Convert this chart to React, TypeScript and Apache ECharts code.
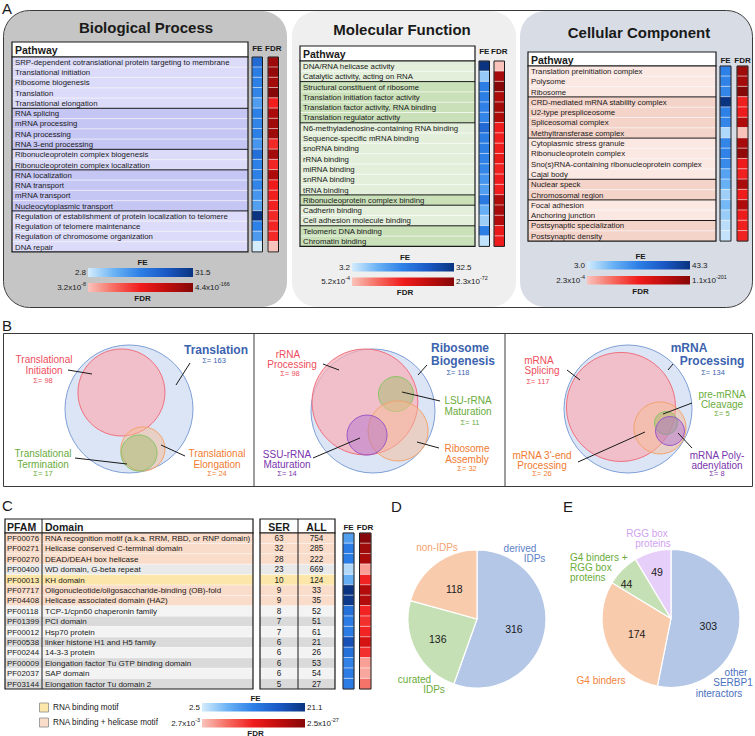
import React, { useEffect, useRef } from "react";
import * as echarts from "echarts";

const FONT = "'Liberation Sans', Arial, Helvetica, sans-serif";

// ---------------- Panel A data ----------------
const bpPathways = [
  "SRP-dependent cotranslational protein targeting to membrane",
  "Translational initiation",
  "Ribosome biogenesis",
  "Translation",
  "Translational elongation",
  "RNA splicing",
  "mRNA processing",
  "RNA processing",
  "RNA 3-end processing",
  "Ribonucleoprotein complex biogenesis",
  "Ribonucleoprotein complex localization",
  "RNA localization",
  "RNA transport",
  "mRNA transport",
  "Nucleocytoplasmic transport",
  "Regulation of establishment of protein localization to telomere",
  "Regulation of telomere maintenance",
  "Regulation of chromosome organization",
  "DNA repair",
];
const bpGroups = [5, 4, 2, 4, 4];
const bpFE = [21, 17.5, 17, 16.5, 13, 17, 16.5, 17, 14, 20, 17, 17, 16.5, 14, 12.5, 31.5, 17, 13.5, 2.8];
const bpFDR = [150, 155, 145, 165.4, 85, 140, 148, 150, 80, 145, 82, 138, 88, 85, 84, 80, 82, 80, 7.5]; // -log10(FDR)
const bpFERange = [2.8, 31.5];
const bpFDRRange = [7.49, 165.36];
const bpScale = ["2.8", "31.5", "3.2x10^-8", "4.4x10^-166"];

const mfPathways = [
  "DNA/RNA helicase activity",
  "Catalytic activity, acting on RNA",
  "Structural constituent of ribosome",
  "Translation initiation factor activity",
  "Translation factor activity, RNA binding",
  "Translation regulator activity",
  "N6-methyladenosine-containing RNA binding",
  "Sequence-specific mRNA binding",
  "snoRNA binding",
  "rRNA binding",
  "miRNA binding",
  "snRNA binding",
  "tRNA binding",
  "Ribonucleoprotein complex binding",
  "Cadherin binding",
  "Cell adhesion molecule binding",
  "Telomeric DNA binding",
  "Chromatin binding",
];
const mfGroups = [2, 4, 7, 1, 2, 2];
const mfFE = [32.5, 7.5, 18, 18, 17.5, 17, 22, 18.5, 18, 17.5, 17, 15, 13.5, 19, 11, 7, 18, 4.5];
const mfFDR = [3.3, 62, 71.6, 60, 63, 60, 38, 37, 38, 40, 36, 38, 37, 60, 62, 58, 40, 38];
const mfFERange = [3.2, 32.5];
const mfFDRRange = [3.28, 71.64];
const mfScale = ["3.2", "32.5", "5.2x10^-4", "2.3x10^-72"];

const ccPathways = [
  "Translation preinitiation complex",
  "Polysome",
  "Ribosome",
  "CRD-mediated mRNA stability complex",
  "U2-type prespliceosome",
  "Spliceosomal complex",
  "Methyltransferase complex",
  "Cytoplasmic stress granule",
  "Ribonucleoprotein complex",
  "Sno(s)RNA-containing ribonucleoprotein complex",
  "Cajal body",
  "Nuclear speck",
  "Chromosomal region",
  "Focal adhesion",
  "Anchoring junction",
  "Postsynaptic specialization",
  "Postsynaptic density",
];
const ccGroups = [3, 4, 4, 2, 2, 2];
const ccFE = [23, 22.5, 22, 43.3, 23, 22, 6.5, 22, 22.5, 21, 16, 13.5, 8, 12, 8.5, 5.5, 4.5];
const ccFDR = [180, 175, 201, 100, 105, 165, 3.6, 172, 190, 105, 100, 170, 102, 165, 105, 100, 98];
const ccFERange = [3.0, 43.3];
const ccFDRRange = [3.64, 200.96];
const ccScale = ["3.0", "43.3", "2.3x10^-4", "1.1x10^-201"];

// ---------------- Panel B data (Venn circles: cx, cy, r in units of the outer circle box 0-100) ----------------
const vennTranslation = [[50, 50, 50], [44.1, 62.9, 34], [60.9, 18.8, 17.2], [57.8, 15.6, 14.1]];
const vennTranslationKinds = ["blue", "red", "orange", "green"];
const vennRibosome = [[50, 50, 50], [43.5, 57.3, 42.7], [68.5, 63.7, 14.1], [70.2, 33.9, 24.2], [45.2, 30.6, 16.1]];
const vennRibosomeKinds = ["blue", "red", "green", "orange", "purple"];
const vennMRNA = [[50, 50, 50], [44.5, 51.6, 42.6], [75, 35.2, 20.3], [79.7, 39.1, 9], [82.8, 32.8, 11.3]];
const vennMRNAKinds = ["blue", "red", "orange", "green", "purple"];

// ---------------- Panel C data ----------------
const pfamIds = ["PF00076", "PF00271", "PF00270", "PF00400", "PF00013", "PF07717", "PF04408", "PF00118", "PF01399", "PF00012", "PF00538", "PF00244", "PF00009", "PF02037", "PF03144"];
const pfamDomains = [
  "RNA recognition motif (a.k.a. RRM, RBD, or RNP domain)",
  "Helicase conserved C-terminal domain",
  "DEAD/DEAH box helicase",
  "WD domain, G-beta repeat",
  "KH domain",
  "Oligonucleotide/oligosaccharide-binding (OB)-fold",
  "Helicase associated domain (HA2)",
  "TCP-1/cpn60 chaperonin family",
  "PCI domain",
  "Hsp70 protein",
  "linker histone H1 and H5 family",
  "14-3-3 protein",
  "Elongation factor Tu GTP binding domain",
  "SAP domain",
  "Elongation factor Tu domain 2",
];
const pfamSER = [63, 32, 28, 23, 10, 9, 9, 8, 7, 7, 6, 6, 6, 6, 5];
const pfamALL = [754, 285, 222, 669, 124, 33, 35, 52, 51, 61, 21, 26, 53, 54, 27];
const pfamMotif = [2, 2, 2, 0, 1, 2, 2, 0, 0, 0, 0, 0, 0, 0, 0]; // 1 RNA binding, 2 RNA binding + helicase
const pfamFE = [9, 12, 12, 4, 7.5, 21.1, 20.5, 13.5, 12, 12, 17.5, 13.5, 11.5, 12, 12];
const pfamFDR = [26.6, 24, 23, 5, 14, 22, 22, 14, 13, 14, 18, 13, 5, 4.5, 8];
const pfamFERange = [2.5, 21.1];
const pfamFDRRange = [2.57, 26.6];
const pfamScale = ["2.5", "21.1", "2.7x10^-3", "2.5x10^-27"];

// ---------------- Panel D / E data ----------------
const dLabels = ["derived IDPs", "curated IDPs", "non-IDPs"];
const dValues = [316, 136, 118];
const eLabels = ["other SERBP1 interactors", "G4 binders", "G4 binders + RGG box proteins", "RGG box proteins"];
const eValues = [303, 174, 44, 49];

// ---------------- styles ----------------
const FE_COLORS = ["#d4ecfc", "#6ab2f5", "#2c7fe6", "#1a58c4", "#0a3480"];
const FDR_COLORS = ["#f9c3bb", "#f66b60", "#f01c1c", "#c00d0d", "#860808"];
const VENN_STYLE: any = {
  blue: { fill: "rgba(190,208,238,0.55)", stroke: "#7f9fd6" },
  red: { fill: "rgba(250,175,182,0.7)", stroke: "#f0707e" },
  orange: { fill: "rgba(246,188,150,0.5)", stroke: "#f3a46c" },
  green: { fill: "rgba(165,188,110,0.5)", stroke: "#8cc46a" },
  purple: { fill: "rgba(170,100,210,0.42)", stroke: "#9a58c4" },
};
const C_BLUE = "#3c63ae";
const C_RED = "#ee4d5c";
const C_GREEN = "#6aac3c";
const C_ORANGE = "#f07b30";
const C_PURPLE = "#7b35ad";
const PIE_BLUE = "#b4c7e7";
const PIE_GREEN = "#c5e0b4";
const PIE_SALMON = "#f8cbad";
const PIE_LAV = "#e6cff8";

function buildOption() {
  const els: any[] = [];
  const grids: any[] = [];
  const xAxes: any[] = [];
  const yAxes: any[] = [];
  const series: any[] = [];
  const visualMaps: any[] = [];

  const txt = (x: number, y: number, text: string, o: any = {}) => {
    const align = o.align || "left";
    els.push({
      type: "text", x, y, z: o.z ?? 60, silent: true,
      style: {
        text, fill: o.color || "#1a1a1a", fontSize: o.size || 8, fontFamily: FONT,
        fontWeight: o.bold ? "bold" : "normal",
        align, textAlign: align, verticalAlign: "middle", textVerticalAlign: "middle",
      },
    });
  };
  const supTxt = (x: number, y: number, s: string, align: string, size: number) => {
    const m = s.match(/^(.*)\^(.*)$/);
    if (!m) { txt(x, y, s, { align, size }); return; }
    els.push({
      type: "text", x, y, z: 60, silent: true,
      style: {
        text: `{b|${m[1]}}{s|${m[2]}}`,
        rich: {
          b: { fontSize: size, fontFamily: FONT, fill: "#1a1a1a", lineHeight: size + 4 },
          s: { fontSize: size * 0.68, fontFamily: FONT, fill: "#1a1a1a", verticalAlign: "top" },
        },
        align, textAlign: align, verticalAlign: "middle", textVerticalAlign: "middle",
      },
    });
  };
  const seg = (x1: number, y1: number, x2: number, y2: number, color = "#1a1a1a", w = 1, z = 60) => {
    els.push({ type: "line", z, silent: true, shape: { x1, y1, x2, y2 }, style: { stroke: color, lineWidth: w } });
  };
  const box = (x: number, y: number, w: number, h: number, fill: any, stroke: any = null, lw = 1, r = 0, z = 1) => {
    els.push({ type: "rect", z, silent: true, shape: { x, y, width: w, height: h, r }, style: { fill: fill || "none", stroke: stroke || "none", lineWidth: lw } });
  };
  const grad = (colors: string[]) =>
    new echarts.graphic.LinearGradient(0, 0, 1, 0, colors.map((c, i) => ({ offset: i / (colors.length - 1), color: c })));

  const addHeatColumn = (left: number, top: number, width: number, height: number, rows: string[], values: number[], range: number[], colors: string[]) => {
    const gi = grids.length;
    grids.push({ left, top, width, height, show: false, containLabel: false });
    xAxes.push({ type: "category", gridIndex: gi, data: ["v"], show: false });
    yAxes.push({ type: "category", gridIndex: gi, data: rows, inverse: true, show: false });
    const si = series.length;
    series.push({
      type: "heatmap", xAxisIndex: gi, yAxisIndex: gi, silent: true,
      data: values.map((v, i) => [0, i, v]),
      itemStyle: { borderColor: "rgba(255,255,255,0.9)", borderWidth: 0.6 },
      emphasis: { disabled: true },
    });
    visualMaps.push({ type: "continuous", show: false, seriesIndex: si, dimension: 2, min: range[0], max: range[1], inRange: { color: colors } });
    box(left, top, width, height, null, "#1a1a1a", 1, 0, 50);
  };

  const addPathwayTable = (c: any) => {
    const { x, y, w, headerH, rowH, rows, groups, light, dark, feX, fdrX, colW, fe, fdr, feRange, fdrRange, hdrY } = c;
    box(x, y, w, headerH, "#ffffff", "#1a1a1a", 1.2, 0, 2);
    txt(x + 3, y + headerH / 2 + 0.5, "Pathway", { bold: true, size: 10.5 });
    const top = y + headerH;
    const gIdx: number[] = [];
    groups.forEach((n: number, g: number) => { for (let k = 0; k < n; k++) gIdx.push(g); });
    rows.forEach((r: string, i: number) => {
      box(x, top + i * rowH, w, rowH, gIdx[i] % 2 === 0 ? light : dark, null, 0, 0, 2);
      txt(x + 3, top + i * rowH + rowH / 2 + 0.3, r, { size: 7.8 });
    });
    for (let i = 1; i < rows.length; i++) {
      const yy = top + i * rowH;
      if (gIdx[i] !== gIdx[i - 1]) seg(x, yy, x + w, yy, "#1a1a1a", 1, 40);
      else seg(x, yy, x + w, yy, "rgba(255,255,255,0.9)", 0.7, 30);
    }
    box(x, top, w, rows.length * rowH, null, "#1a1a1a", 1.2, 0, 45);
    txt(feX + colW / 2, hdrY, "FE", { bold: true, size: 8, align: "center" });
    txt(fdrX + colW / 2, hdrY, "FDR", { bold: true, size: 8, align: "center" });
    addHeatColumn(feX, top, colW, rows.length * rowH, rows, fe, feRange, FE_COLORS);
    addHeatColumn(fdrX, top, colW, rows.length * rowH, rows, fdr, fdrRange, FDR_COLORS);
  };

  const addScale = (x0: number, x1: number, yFE: number, yFDR: number, h: number, labels: string[], feLblY: number, fdrLblY: number) => {
    const cx = (x0 + x1) / 2;
    txt(cx + 2, feLblY, "FE", { bold: true, size: 8, align: "center" });
    box(x0, yFE, x1 - x0, h, grad(FE_COLORS), null, 0, 0, 10);
    box(x0, yFDR, x1 - x0, h, grad(FDR_COLORS), null, 0, 0, 10);
    txt(x0 - 2, yFE + h / 2, labels[0], { size: 8, align: "right" });
    txt(x1 + 2, yFE + h / 2, labels[1], { size: 8, align: "left" });
    supTxt(x0 - 2, yFDR + h / 2, labels[2], "right", 8);
    supTxt(x1 + 2, yFDR + h / 2, labels[3], "left", 8);
    txt(cx + 2, fdrLblY, "FDR", { bold: true, size: 8, align: "center" });
  };

  // ---------- Panel A backgrounds ----------
  box(3.5, 10.5, 749, 297, "#ffffff", null, 0, 26, 0);
  box(4, 11, 283, 296, "#c5c5c5", null, 0, 25, 0);
  box(292, 11, 224, 296, "#efefef", null, 0, 25, 0);
  box(520, 11, 232, 296, "#d7dce5", null, 0, 25, 0);
  box(3.5, 10.5, 749, 297, null, "#3a3a3a", 1, 26, 1);

  txt(2, 8, "A", { size: 15 });
  txt(146, 27, "Biological Process", { bold: true, size: 15, align: "center" });
  txt(402, 29, "Molecular Function", { bold: true, size: 15, align: "center" });
  txt(639, 32, "Cellular Component", { bold: true, size: 15, align: "center" });

  addPathwayTable({ x: 12, y: 42, w: 236, headerH: 15, rowH: 10.26, rows: bpPathways, groups: bpGroups, light: "#dcdcfa", dark: "#c6c6f4", feX: 252, fdrX: 268, colW: 10.5, fe: bpFE, fdr: bpFDR, feRange: bpFERange, fdrRange: bpFDRRange, hdrY: 48.5 });
  addPathwayTable({ x: 300, y: 46, w: 175, headerH: 15, rowH: 10.3, rows: mfPathways, groups: mfGroups, light: "#e3efdb", dark: "#c9e0b9", feX: 479, fdrX: 494, colW: 10.5, fe: mfFE, fdr: mfFDR, feRange: mfFERange, fdrRange: mfFDRRange, hdrY: 51 });
  addPathwayTable({ x: 528, y: 52, w: 188, headerH: 14, rowH: 10.3, rows: ccPathways, groups: ccGroups, light: "#fbe8e3", dark: "#f4d3c9", feX: 720, fdrX: 737, colW: 11, fe: ccFE, fdr: ccFDR, feRange: ccFERange, fdrRange: ccFDRRange, hdrY: 60 });

  addScale(88, 193, 268, 283, 9, bpScale, 262.5, 298);
  addScale(352, 454, 263, 277.5, 8.5, mfScale, 257, 292.5);
  addScale(587, 690, 261, 276, 8.5, ccScale, 256, 291);

  // ---------- Panel B ----------
  txt(2, 325, "B", { size: 15 });
  box(3.5, 333.5, 749, 153, "#ffffff", "#3a3a3a", 1, 0, 0);
  seg(254, 333.5, 254, 486.5, "#3a3a3a", 1, 1);
  seg(505, 333.5, 505, 486.5, "#3a3a3a", 1, 1);

  const addVenn = (left: number, top: number, size: number, circles: number[][], kinds: string[]) => {
    const gi = grids.length;
    grids.push({ left, top, width: size, height: size, show: false, containLabel: false });
    xAxes.push({ type: "value", gridIndex: gi, min: 0, max: 100, show: false });
    yAxes.push({ type: "value", gridIndex: gi, min: 0, max: 100, show: false });
    series.push({
      type: "custom", xAxisIndex: gi, yAxisIndex: gi, silent: true, clip: false, z: 5,
      data: circles,
      renderItem: (params: any, api: any) => {
        const c = api.coord([api.value(0), api.value(1)]);
        const r = api.size([api.value(2), 0])[0];
        const st = VENN_STYLE[kinds[params.dataIndex]];
        return { type: "circle", shape: { cx: c[0], cy: c[1], r }, style: { fill: st.fill, stroke: st.stroke, lineWidth: 1 } };
      },
    });
  };
  addVenn(65, 345, 128, vennTranslation, vennTranslationKinds);
  addVenn(311, 349, 124, vennRibosome, vennRibosomeKinds);
  addVenn(564, 345, 128, vennMRNA, vennMRNAKinds);

  const note = (x: number, y: number, t: string, color: string, size = 10, bold = false) =>
    txt(x, y, t, { color, size, bold, align: "center", z: 70 });
  // Venn 1
  note(216, 350, "Translation", C_BLUE, 12, true);
  note(214, 360.5, "Σ= 163", C_BLUE, 7.5);
  seg(176, 385, 190, 363, "#1a1a1a", 1, 70);
  note(44, 359, "Translational", C_RED);
  note(44, 370, "Initiation", C_RED);
  note(43, 380, "Σ= 98", C_RED, 7.5);
  seg(68, 370, 92, 374, "#1a1a1a", 1, 70);
  note(43, 453, "Translational", C_GREEN);
  note(43, 464, "Termination", C_GREEN);
  note(43, 473.5, "Σ= 17", C_GREEN, 7.5);
  seg(75, 458, 127, 464, "#1a1a1a", 1, 70);
  note(217, 453, "Translational", C_ORANGE);
  note(217, 464, "Elongation", C_ORANGE);
  note(217, 473.5, "Σ= 24", C_ORANGE, 7.5);
  seg(161, 445, 185, 456, "#1a1a1a", 1, 70);
  // Venn 2
  note(460, 348, "Ribosome", C_BLUE, 12, true);
  note(463, 361, "Biogenesis", C_BLUE, 12, true);
  note(458, 372, "Σ= 118", C_BLUE, 7.5);
  seg(418, 375, 427, 365, "#1a1a1a", 1, 70);
  note(288, 354, "rRNA", C_RED);
  note(292, 364, "Processing", C_RED);
  note(290, 373.5, "Σ= 98", C_RED, 7.5);
  seg(323, 364, 339, 370, "#1a1a1a", 1, 70);
  note(468, 400, "LSU-rRNA", C_GREEN);
  note(468, 411, "Maturation", C_GREEN);
  note(470, 422, "Σ= 11", C_GREEN, 7.5);
  seg(402, 392, 440, 401, "#1a1a1a", 1, 70);
  note(467, 448, "Ribosome", C_ORANGE);
  note(467, 459, "Assembly", C_ORANGE);
  note(467, 468.5, "Σ= 32", C_ORANGE, 7.5);
  seg(417, 442, 439, 448, "#1a1a1a", 1, 70);
  note(287, 454, "SSU-rRNA", C_PURPLE);
  note(287, 464.5, "Maturation", C_PURPLE);
  note(287, 473.5, "Σ= 14", C_PURPLE, 7.5);
  seg(313, 458, 360, 438, "#1a1a1a", 1, 70);
  // Venn 3
  note(689, 348, "mRNA", C_BLUE, 12, true);
  note(712, 361, "Processing", C_BLUE, 12, true);
  note(713, 372, "Σ= 134", C_BLUE, 7.5);
  seg(668, 370, 673, 364, "#1a1a1a", 1, 70);
  note(539, 360, "mRNA", C_RED);
  note(542, 370.5, "Splicing", C_RED);
  note(538, 381.5, "Σ= 117", C_RED, 7.5);
  seg(567, 370, 580, 380, "#1a1a1a", 1, 70);
  note(722, 394, "pre-mRNA", C_GREEN);
  note(722, 404, "Cleavage", C_GREEN);
  note(722, 413.5, "Σ= 5", C_GREEN, 7.5);
  seg(663, 414, 692, 403, "#1a1a1a", 1, 70);
  note(717, 455, "mRNA Poly-", C_PURPLE);
  note(717, 465, "adenylation", C_PURPLE);
  note(717, 473.5, "Σ= 8", C_PURPLE, 7.5);
  seg(678, 433, 692, 448, "#1a1a1a", 1, 70);
  note(542, 455, "mRNA 3'-end", C_ORANGE);
  note(542, 465, "Processing", C_ORANGE);
  note(542, 473.5, "Σ= 26", C_ORANGE, 7.5);
  seg(578, 462, 645, 432, "#1a1a1a", 1, 70);

  // ---------- Panel C ----------
  txt(2, 505, "C", { size: 15 });
  const cTop = 519, cHdr = 14, cRow = 10.4;
  const cBody = cTop + cHdr;
  const nC = pfamIds.length;
  box(5, cTop, 248, cHdr, "#ffffff", "#1a1a1a", 1.2, 0, 2);
  box(260, cTop, 75, cHdr, "#ffffff", "#1a1a1a", 1.2, 0, 2);
  txt(7, cTop + cHdr / 2 + 0.5, "PFAM", { bold: true, size: 10.5 });
  txt(45, cTop + cHdr / 2 + 0.5, "Domain", { bold: true, size: 10.5 });
  txt(279, cTop + cHdr / 2 + 0.5, "SER", { bold: true, size: 10.5, align: "center" });
  txt(316.5, cTop + cHdr / 2 + 0.5, "ALL", { bold: true, size: 10.5, align: "center" });
  let alt = 0;
  pfamIds.forEach((id, i) => {
    let fill: string;
    if (pfamMotif[i] === 2) fill = "#f9dcc9";
    else if (pfamMotif[i] === 1) fill = "#fde6a9";
    else { fill = i === 3 ? "#e9e9e9" : (alt % 2 === 0 ? "#f3f3f3" : "#dadada"); if (i !== 3) alt++; }
    const yy = cBody + i * cRow;
    box(5, yy, 248, cRow, fill, null, 0, 0, 2);
    box(260, yy, 75, cRow, fill, null, 0, 0, 2);
    txt(7, yy + cRow / 2 + 0.3, id, { size: 7.9 });
    txt(45, yy + cRow / 2 + 0.3, pfamDomains[i], { size: 8 });
    txt(279, yy + cRow / 2 + 0.3, String(pfamSER[i]), { size: 8.2, align: "center" });
    txt(316.5, yy + cRow / 2 + 0.3, String(pfamALL[i]), { size: 8.2, align: "center" });
    if (i > 0) {
      seg(5, yy, 253, yy, "rgba(255,255,255,0.8)", 0.6, 30);
      seg(260, yy, 335, yy, "rgba(255,255,255,0.8)", 0.6, 30);
    }
  });
  box(5, cBody, 248, nC * cRow, null, "#1a1a1a", 1.2, 0, 45);
  box(260, cBody, 75, nC * cRow, null, "#1a1a1a", 1.2, 0, 45);
  seg(42, cTop, 42, cBody + nC * cRow, "#1a1a1a", 1, 45);
  seg(298, cTop, 298, cBody + nC * cRow, "#1a1a1a", 1, 45);
  txt(348.5, 527, "FE", { bold: true, size: 8, align: "center" });
  txt(365, 527, "FDR", { bold: true, size: 8, align: "center" });
  addHeatColumn(343, cBody, 11, nC * cRow, pfamIds, pfamFE, pfamFERange, FE_COLORS);
  addHeatColumn(359.5, cBody, 11.5, nC * cRow, pfamIds, pfamFDR, pfamFDRRange, FDR_COLORS);

  box(39.5, 703, 9, 9, "#fde6a9", "#8a8a8a", 0.8, 0, 10);
  box(39.5, 718, 9, 9, "#f9dcc9", "#8a8a8a", 0.8, 0, 10);
  txt(53, 707.5, "RNA binding motif", { size: 8.2 });
  txt(53, 722.5, "RNA binding + helicase motif", { size: 8.2 });
  addScale(202, 305, 703, 719, 8.5, pfamScale, 698, 733);

  // ---------- Panel D / E ----------
  txt(391, 506, "D", { size: 15 });
  txt(563, 506, "E", { size: 15 });

  const pieBase = {
    type: "pie", radius: [0, 69], startAngle: 90, clockwise: true, silent: true,
    avoidLabelOverlap: false,
    label: { show: true, position: "inside", formatter: "{c}", fontSize: 10.5, color: "#1a1a1a", fontFamily: FONT },
    labelLine: { show: false },
    itemStyle: { borderColor: "#ffffff", borderWidth: 1.2 },
    emphasis: { disabled: true },
  };
  const dColors = [PIE_BLUE, PIE_GREEN, PIE_SALMON];
  const eColors = [PIE_BLUE, PIE_SALMON, PIE_GREEN, PIE_LAV];
  series.push({
    ...pieBase, center: [477, 619],
    data: dValues.map((v, i) => ({ value: v, name: dLabels[i], itemStyle: { color: dColors[i] } })),
    labelLayout: (p: any) => (p.dataIndex === 1 ? { dx: -6, dy: 3 } : p.dataIndex === 0 ? { dy: 4 } : {}),
  });
  series.push({
    ...pieBase, center: [671, 618.5],
    data: eValues.map((v, i) => ({ value: v, name: eLabels[i], itemStyle: { color: eColors[i] } })),
    labelLayout: (p: any) => (p.dataIndex === 2 ? { dx: -18, dy: -8 } : p.dataIndex === 3 ? { dx: -4, dy: -10 } : p.dataIndex === 0 ? { dy: 4 } : {}),
  });

  const pl = (x: number, y: number, t: string, color: string, align = "center") => txt(x, y, t, { color, size: 10, align, z: 70 });
  pl(437, 547, "non-IDPs", "#f4a36e");
  pl(520, 548, "derived", "#5b7fc7");
  pl(534.5, 558.5, "IDPs", "#5b7fc7");
  pl(414.5, 679, "curated", C_GREEN);
  pl(434, 689, "IDPs", C_GREEN);
  pl(647, 533, "RGG box", "#cfa2ef");
  pl(653, 543, "proteins", "#cfa2ef");
  pl(570, 557, "G4 binders +", C_GREEN, "left");
  pl(570, 567, "RGG box", C_GREEN, "left");
  pl(570, 577, "proteins", C_GREEN, "left");
  pl(601, 680, "G4 binders", "#f2843c");
  pl(736, 672, "other", "#4a70c0");
  pl(733, 682, "SERBP1", "#4a70c0");
  pl(719, 693, "interactors", "#4a70c0");

  return {
    animation: false,
    backgroundColor: "#ffffff",
    textStyle: { fontFamily: FONT },
    grid: grids,
    xAxis: xAxes,
    yAxis: yAxes,
    visualMap: visualMaps,
    series,
    graphic: { elements: els },
  };
}

export default function App() {
  const ref = useRef<HTMLDivElement>(null);
  useEffect(() => {
    if (!ref.current) return;
    const chart = echarts.init(ref.current, null, { renderer: "svg" });
    chart.setOption(buildOption() as any);
    return () => chart.dispose();
  }, []);
  return <div ref={ref} style={{ position: "absolute", left: 0, top: 0, width: 755, height: 736 }} />;
}
